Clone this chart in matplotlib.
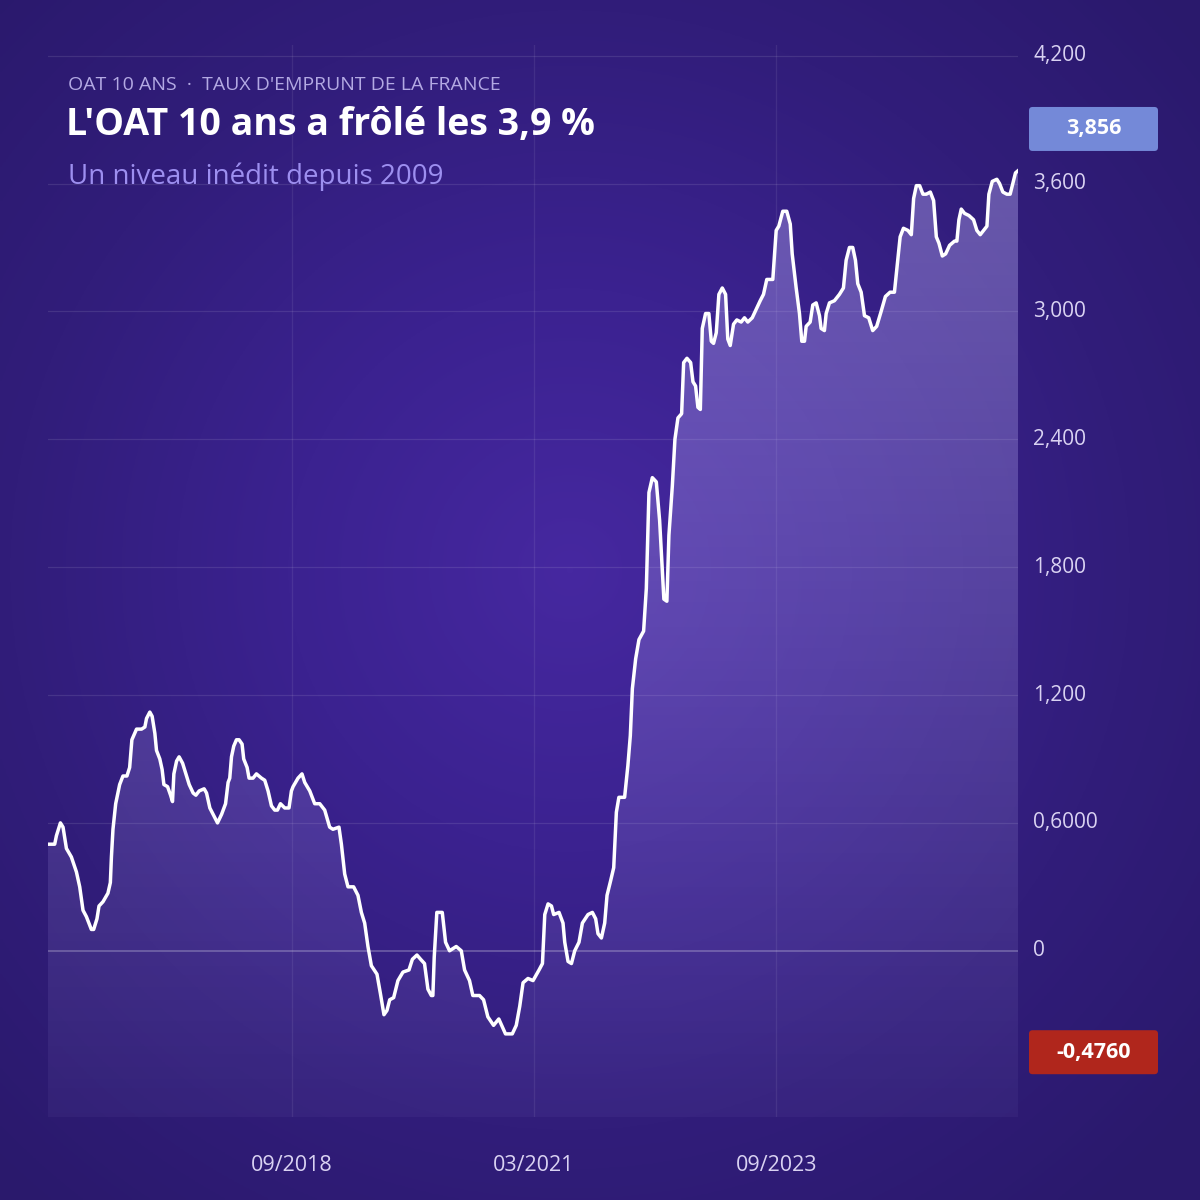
import numpy as np
import pandas as pd
import matplotlib
matplotlib.use('Agg')
import matplotlib.pyplot as plt
from matplotlib.patches import FancyBboxPatch
from matplotlib.colors import LinearSegmentedColormap

# OAT 10 ans, time as decimal years, rate in %
years = [2016.155, 2016.224, 2016.242, 2016.283, 2016.310, 2016.345, 2016.396, 2016.448, 2016.482, 2016.516,
         2016.551, 2016.602, 2016.626, 2016.660, 2016.681, 2016.722, 2016.773, 2016.798, 2016.809, 2016.825,
         2016.853, 2016.894, 2016.928, 2016.969, 2016.997, 2017.018, 2017.066, 2017.118, 2017.152, 2017.169,
         2017.203, 2017.227, 2017.255, 2017.272, 2017.306, 2017.330, 2017.348, 2017.386, 2017.417, 2017.437,
         2017.451, 2017.479, 2017.505, 2017.541, 2017.575, 2017.609, 2017.650, 2017.678, 2017.712, 2017.763,
         2017.788, 2017.822, 2017.856, 2017.901, 2017.943, 2017.984, 2018.011, 2018.028, 2018.046, 2018.069,
         2018.097, 2018.124, 2018.155, 2018.172, 2018.207, 2018.227, 2018.268, 2018.303, 2018.355, 2018.389,
         2018.423, 2018.458, 2018.492, 2018.520, 2018.551, 2018.595, 2018.639, 2018.664, 2018.681, 2018.732,
         2018.773, 2018.801, 2018.853, 2018.904, 2018.956, 2019.008, 2019.059, 2019.093, 2019.155, 2019.180,
         2019.214, 2019.248, 2019.306, 2019.351, 2019.386, 2019.420, 2019.454, 2019.489, 2019.547, 2019.582,
         2019.619, 2019.650, 2019.678, 2019.719, 2019.763, 2019.815, 2019.877, 2019.912, 2019.959, 2019.997,
         2020.038, 2020.073, 2020.108, 2020.124, 2020.138, 2020.165, 2020.221, 2020.255, 2020.296, 2020.365,
         2020.417, 2020.451, 2020.502, 2020.536, 2020.605, 2020.647, 2020.691, 2020.750, 2020.804, 2020.873,
         2020.943, 2020.984, 2021.018, 2021.052, 2021.103, 2021.155, 2021.217, 2021.252, 2021.276, 2021.310,
         2021.345, 2021.368, 2021.423, 2021.464, 2021.482, 2021.516, 2021.551, 2021.585, 2021.629, 2021.664,
         2021.722, 2021.767, 2021.801, 2021.825, 2021.860, 2021.894, 2021.918, 2021.956, 2021.987, 2022.015,
         2022.041, 2022.100, 2022.134, 2022.159, 2022.180, 2022.214, 2022.248, 2022.296, 2022.324, 2022.351,
         2022.386, 2022.427, 2022.461, 2022.489, 2022.505, 2022.536, 2022.557, 2022.592, 2022.619, 2022.650,
         2022.688, 2022.709, 2022.743, 2022.781, 2022.805, 2022.832, 2022.856, 2022.881, 2022.901, 2022.935,
         2022.969, 2022.994, 2023.018, 2023.046, 2023.073, 2023.108, 2023.142, 2023.165, 2023.190, 2023.224,
         2023.258, 2023.303, 2023.337, 2023.371, 2023.417, 2023.458, 2023.499, 2023.533, 2023.567, 2023.595,
         2023.629, 2023.664, 2023.691, 2023.732, 2023.773, 2023.809, 2023.829, 2023.870, 2023.904, 2023.928,
         2023.956, 2023.973, 2024.015, 2024.042, 2024.077, 2024.111, 2024.128, 2024.162, 2024.180, 2024.214,
         2024.265, 2024.317, 2024.358, 2024.386, 2024.420, 2024.454, 2024.482, 2024.506, 2024.541, 2024.575,
         2024.619, 2024.660, 2024.701, 2024.747, 2024.791, 2024.839, 2024.884, 2024.918, 2024.943, 2024.977,
         2025.021, 2025.056, 2025.080, 2025.108, 2025.142, 2025.176, 2025.210, 2025.252, 2025.286, 2025.314,
         2025.341, 2025.376, 2025.410, 2025.451, 2025.502, 2025.526, 2025.547, 2025.571, 2025.605, 2025.650,
         2025.698, 2025.732, 2025.767, 2025.801, 2025.836, 2025.856, 2025.891, 2025.938, 2025.966, 2026.001,
         2026.042, 2026.076, 2026.103, 2026.131, 2026.157]
rates = [0.50, 0.50, 0.54, 0.60, 0.58, 0.48, 0.44, 0.37, 0.30, 0.19,
         0.16, 0.10, 0.10, 0.15, 0.21, 0.23, 0.27, 0.32, 0.44, 0.57,
         0.69, 0.78, 0.82, 0.82, 0.86, 0.99, 1.04, 1.04, 1.05, 1.09,
         1.12, 1.10, 1.02, 0.94, 0.90, 0.85, 0.78, 0.77, 0.73, 0.70,
         0.83, 0.89, 0.91, 0.88, 0.83, 0.78, 0.74, 0.73, 0.75, 0.76,
         0.74, 0.67, 0.64, 0.60, 0.64, 0.69, 0.79, 0.81, 0.91, 0.96,
         0.99, 0.99, 0.97, 0.90, 0.86, 0.81, 0.81, 0.83, 0.81, 0.80,
         0.75, 0.68, 0.66, 0.66, 0.69, 0.67, 0.67, 0.75, 0.77, 0.81,
         0.83, 0.79, 0.75, 0.69, 0.69, 0.66, 0.58, 0.57, 0.58, 0.50,
         0.36, 0.30, 0.30, 0.26, 0.18, 0.13, 0.02, -0.07, -0.11, -0.20,
         -0.30, -0.28, -0.23, -0.22, -0.14, -0.10, -0.09, -0.04, -0.02, -0.04,
         -0.06, -0.18, -0.21, -0.21, -0.03, 0.18, 0.18, 0.04, 0.00, 0.02,
         0.00, -0.09, -0.14, -0.21, -0.21, -0.23, -0.31, -0.35, -0.32, -0.39,
         -0.39, -0.35, -0.26, -0.15, -0.13, -0.14, -0.09, -0.06, 0.17, 0.22,
         0.21, 0.17, 0.18, 0.13, 0.04, -0.05, -0.06, 0.00, 0.04, 0.13,
         0.17, 0.18, 0.15, 0.08, 0.06, 0.13, 0.26, 0.33, 0.39, 0.65,
         0.72, 0.72, 0.87, 1.01, 1.23, 1.37, 1.46, 1.50, 1.70, 2.15,
         2.22, 2.20, 2.02, 1.79, 1.65, 1.64, 1.95, 2.18, 2.40, 2.50,
         2.52, 2.76, 2.78, 2.76, 2.67, 2.65, 2.55, 2.54, 2.92, 2.99,
         2.99, 2.86, 2.85, 2.90, 3.08, 3.11, 3.08, 2.87, 2.84, 2.94,
         2.96, 2.95, 2.97, 2.95, 2.97, 3.01, 3.05, 3.08, 3.15, 3.15,
         3.15, 3.38, 3.40, 3.47, 3.47, 3.41, 3.27, 3.11, 2.99, 2.86,
         2.86, 2.93, 2.95, 3.03, 3.04, 2.98, 2.92, 2.91, 2.99, 3.04,
         3.05, 3.08, 3.11, 3.24, 3.30, 3.30, 3.24, 3.13, 3.09, 2.98,
         2.97, 2.91, 2.93, 3.00, 3.07, 3.09, 3.09, 3.24, 3.35, 3.39,
         3.38, 3.36, 3.53, 3.59, 3.59, 3.55, 3.55, 3.56, 3.52, 3.35,
         3.32, 3.26, 3.27, 3.31, 3.33, 3.33, 3.43, 3.48, 3.46, 3.45,
         3.43, 3.38, 3.36, 3.38, 3.40, 3.55, 3.61, 3.62, 3.60, 3.56,
         3.55, 3.55, 3.60, 3.65, 3.66]

x_tick_dates = ['2018-09-01', '2021-03-01', '2023-09-01']
x_tick_labels = ['09/2018', '03/2021', '09/2023']
y_ticks = [0, 0.6, 1.2, 1.8, 2.4, 3.0, 3.6, 4.2]
y_tick_labels = ['0', '0,6000', '1,200', '1,800', '2,400', '3,000', '3,600', '4,200']
max_value, max_text = 3.856, '3,856'
min_value, min_text = -0.476, '-0,4760'

kicker = "OAT 10 ANS  ·  TAUX D'EMPRUNT DE LA FRANCE"
title = "L'OAT 10 ans a frôlé les 3,9 %"
subtitle = "Un niveau inédit depuis 2009"


def to_date(y):
    yr = int(y)
    return pd.Timestamp(yr, 1, 1) + pd.Timedelta(days=(y - yr) * 365.25)


dates = pd.to_datetime([to_date(y) for y in years])
xt = pd.to_datetime(x_tick_dates)

plt.rcParams['font.family'] = ['Open Sans', 'DejaVu Sans']

fig = plt.figure(figsize=(12, 12), dpi=100)

# radial background
bg = fig.add_axes([0, 0, 1, 1], zorder=-10)
gx, gy = np.meshgrid(np.linspace(-1, 1, 400), np.linspace(-1, 1, 400))
r = np.sqrt((gx + 0.05) ** 2 + (gy + 0.05) ** 2)
bg_cmap = LinearSegmentedColormap.from_list('bg', ['#4628a0', '#3b2290', '#311d7a', '#2a196c'])
bg.imshow(np.clip(r / 1.4, 0, 1), cmap=bg_cmap, extent=[0, 1, 0, 1], aspect='auto', vmin=0, vmax=1)
bg.axis('off')

ax = fig.add_axes([48 / 1200, 83 / 1200, 970 / 1200, 1072 / 1200])
ax.patch.set_alpha(0)
ymin, ymax = -0.78, 4.25
ax.set_ylim(ymin, ymax)
ax.set_xlim(dates[0], dates[-1])

# gradient fill under the curve
poly = ax.fill_between(dates, rates, ymin, color='none', lw=0)
grad = np.zeros((256, 1, 4))
grad[:, 0, 0] = 0.78
grad[:, 0, 1] = 0.74
grad[:, 0, 2] = 1.0
grad[:, 0, 3] = np.linspace(0.42, 0.05, 256)
x0, x1 = ax.get_xlim()
im = ax.imshow(grad, extent=[x0, x1, ymin, ymax], aspect='auto', origin='upper', zorder=1)
im.set_clip_path(poly.get_paths()[0], transform=ax.transData)
ax.set_xlim(x0, x1)

ax.plot(dates, rates, color='white', lw=2.5, zorder=3, solid_joinstyle='round')

for v in y_ticks:
    ax.axhline(v, color='white', alpha=0.28 if v == 0 else 0.10, lw=1.2 if v == 0 else 0.9, zorder=0.5)
for d in xt:
    ax.axvline(d, color='white', alpha=0.08, lw=0.9, zorder=0.5)

for s in ax.spines.values():
    s.set_visible(False)
ax.set_xticks([])
ax.set_yticks([])

for v, lab in zip(y_ticks, y_tick_labels):
    ax.text(1.0155, v, lab, transform=ax.get_yaxis_transform(), ha='left', va='center',
            fontsize=15, color='#d9d2f2')
for d, lab in zip(xt, x_tick_labels):
    ax.text(d, -0.045, lab, transform=ax.get_xaxis_transform(), ha='center', va='center',
            fontsize=15.5, color='#d9d2f2')


def value_box(value, text, color):
    y_fig = fig.transFigure.inverted().transform(ax.transData.transform((x0, value)))[1]
    h = 44 / 1200
    box = FancyBboxPatch((1029 / 1200, y_fig - h / 2), 129 / 1200, h,
                         boxstyle='round,pad=0,rounding_size=0.003',
                         transform=fig.transFigure, facecolor=color, edgecolor='none')
    fig.patches.append(box)
    fig.text(1093.5 / 1200, y_fig, text, ha='center', va='center', fontsize=15.5,
             fontweight='bold', color='white')


value_box(max_value, max_text, '#7489d8')
value_box(min_value, min_text, '#b0261c')

fig.text(68 / 1200, 1 - 85 / 1200, kicker, ha='left', va='center', fontsize=14, color='#b3a9e3')
fig.text(66 / 1200, 1 - 125 / 1200, title, ha='left', va='center', fontsize=27,
         fontweight='bold', color='white')
fig.text(68 / 1200, 1 - 177 / 1200, subtitle, ha='left', va='center', fontsize=20, color='#9d8ff0')

fig.savefig('out.png', dpi=100)
